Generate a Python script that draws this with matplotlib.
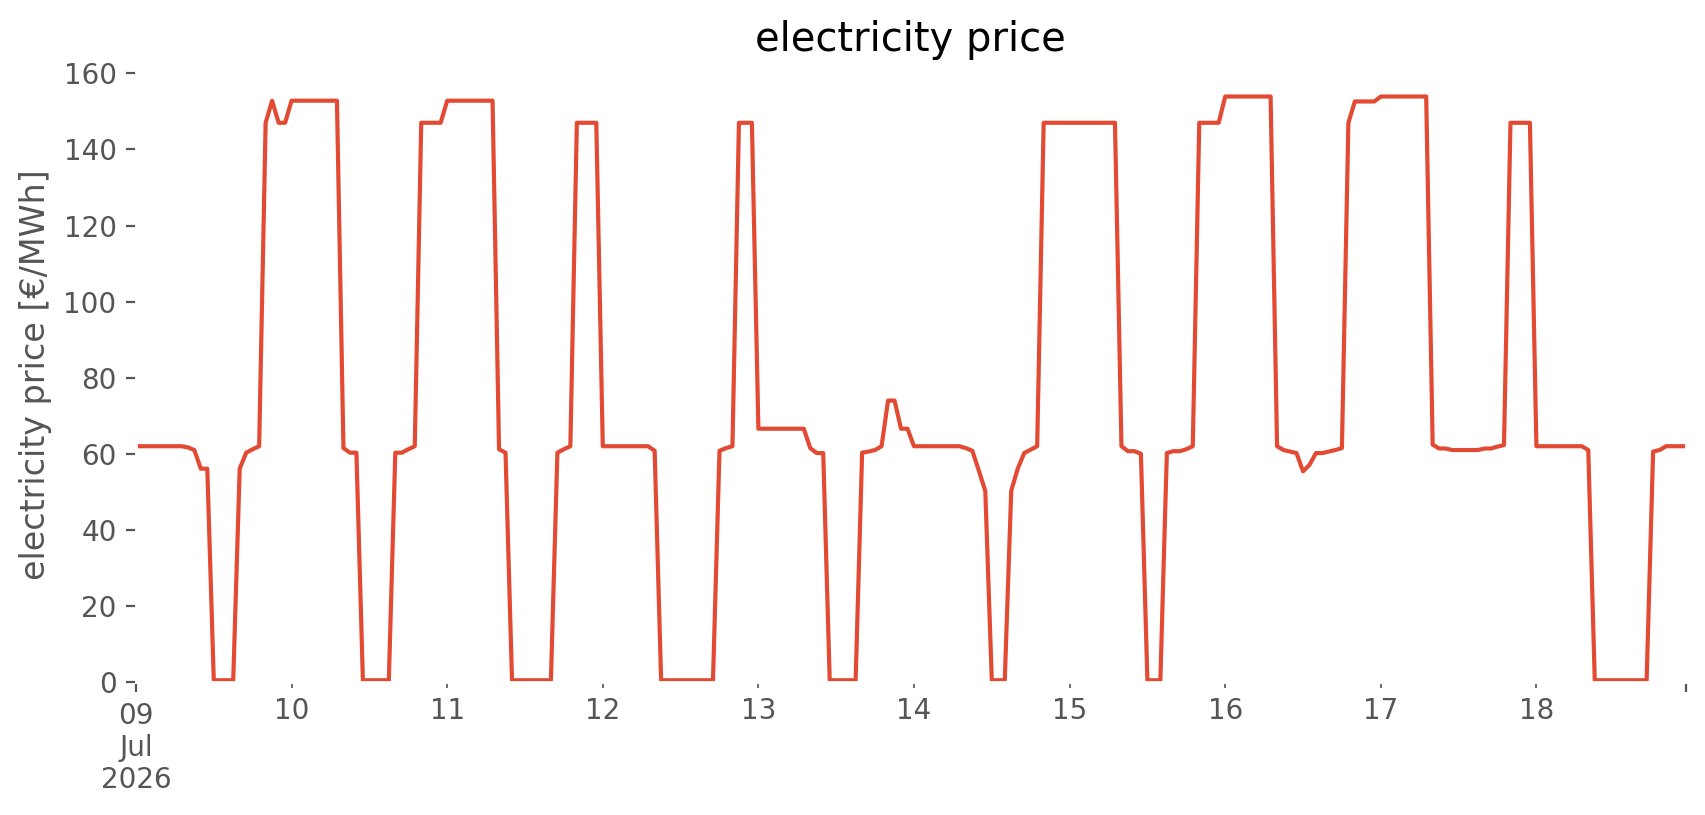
import matplotlib
matplotlib.use("Agg")
import matplotlib.pyplot as plt
import numpy as np
import pandas as pd

plt.style.use("ggplot")

# hourly electricity price per day [€/MWh]
jul09 = [62, 62, 62, 62, 62, 62, 62, 62, 61.7, 61, 56.1, 56.1,
         0.5, 0.5, 0.5, 0.5, 56.1, 60.3, 61.2, 62, 147, 152.8, 147, 147]
jul10 = [152.8, 152.8, 152.8, 152.8, 152.8, 152.8, 152.8, 152.8,
         61.5, 60.3, 60.3, 0.5, 0.5, 0.5, 0.5, 0.5,
         60.3, 60.3, 61.2, 62, 147, 147, 147, 147]
jul11 = [152.8, 152.8, 152.8, 152.8, 152.8, 152.8, 152.8, 152.8,
         61.2, 60.3, 0.5, 0.5, 0.5, 0.5, 0.5, 0.5, 0.5,
         60.3, 61.2, 62, 147, 147, 147, 147]
jul12 = [62, 62, 62, 62, 62, 62, 62, 62,
         60.8, 0.5, 0.5, 0.5, 0.5, 0.5, 0.5, 0.5, 0.5, 0.5,
         60.8, 61.5, 62, 147, 147, 147]
jul13 = [66.6, 66.6, 66.6, 66.6, 66.6, 66.6, 66.6, 66.6,
         61.5, 60.2, 60.2, 0.5, 0.5, 0.5, 0.5, 0.5,
         60.3, 60.6, 61.0, 62, 74, 74, 66.6, 66.6]
jul14 = [62, 62, 62, 62, 62, 62, 62, 62,
         61.5, 60.8, 55.6, 50.2, 0.5, 0.5, 0.5,
         50.3, 56.1, 60.2, 61.1, 62, 147, 147, 147, 147]
jul15 = [147, 147, 147, 147, 147, 147, 147, 147,
         62, 60.7, 60.7, 60, 0.5, 0.5, 0.5,
         60.2, 60.7, 60.7, 61.2, 62, 147, 147, 147, 147]
jul16 = [153.9, 153.9, 153.9, 153.9, 153.9, 153.9, 153.9, 153.9,
         62, 61, 60.6, 60.2, 55.4, 57.1, 60.2, 60.2, 60.6, 61, 61.5,
         147, 152.6, 152.6, 152.6, 152.6]
jul17 = [153.9, 153.9, 153.9, 153.9, 153.9, 153.9, 153.9, 153.9,
         62.4, 61.4, 61.4, 61, 61, 61, 61, 61, 61.4, 61.4, 61.9, 62.3,
         147, 147, 147, 147]
jul18 = [62, 62, 62, 62, 62, 62, 62, 62,
         61, 0.5, 0.5, 0.5, 0.5, 0.5, 0.5, 0.5, 0.5, 0.5,
         60.6, 61, 62, 62, 62, 62]

prices = jul09 + jul10 + jul11 + jul12 + jul13 + jul14 + jul15 + jul16 + jul17 + jul18
index = pd.date_range("2026-07-09 00:00", periods=len(prices), freq="h")
price = pd.Series(prices, index=index)

fig, ax = plt.subplots(figsize=(8.53, 4.075), dpi=200)
ax.set_facecolor("white")
ax.grid(False)
price.plot(ax=ax, color="#E24A33", linewidth=1.5)
# untere Grenze bei 0, obere automatisch
ax.set_ylim(bottom=0)
ax.set_title("electricity price")
ax.set_ylabel("electricity price [€/MWh]")
ax.set_xlabel("")
fig.subplots_adjust(left=0.0797, right=0.988, bottom=0.163, top=0.9174)
fig.savefig("out.png", dpi=200, facecolor="white")
